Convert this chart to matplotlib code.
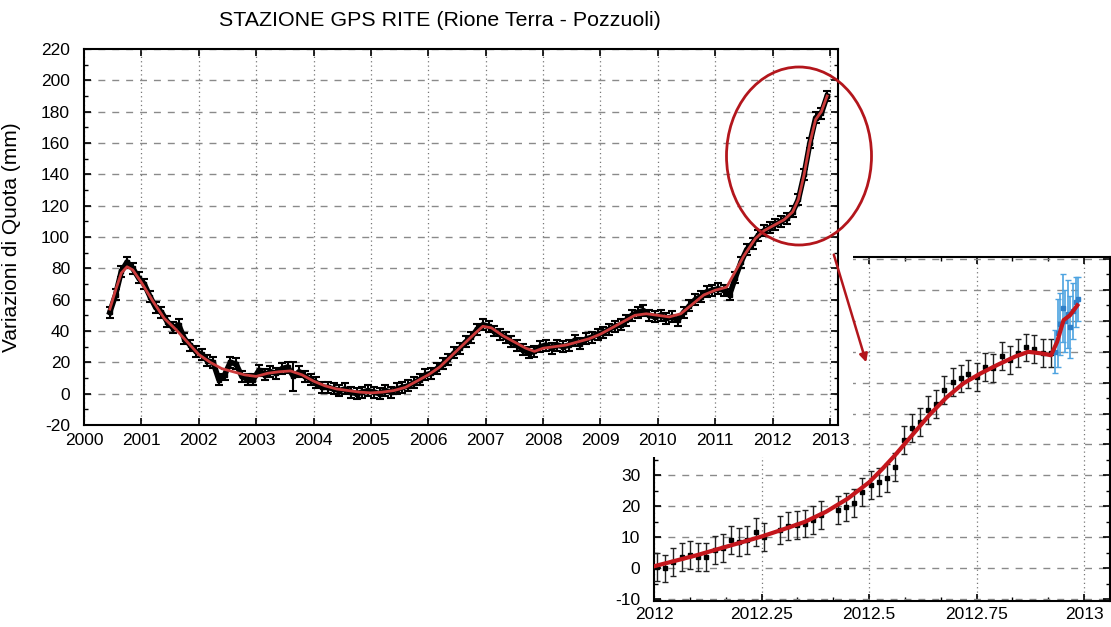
"""
Stazione GPS RITE (Rione Terra - Pozzuoli): quota nel tempo 2000-2013
con riquadro ingrandito sull'anno 2012.
"""

import numpy as np
import matplotlib.pyplot as plt
from matplotlib.patches import Rectangle, Ellipse, FancyArrowPatch
from matplotlib.ticker import MultipleLocator, FuncFormatter

plt.rcParams["font.family"] = ["Liberation Sans", "DejaVu Sans"]
plt.rcParams["axes.unicode_minus"] = False

# ---- serie principale: misure ogni 0.1 anni a partire da 2000.45 ----
OBS_START = 2000.45
OBS_STEP = 0.1
h_obs = [
    52, 63, 78, 84, 80, 74,                      # 2000
    70, 62, 55, 52, 46, 42, 44, 35, 31, 27,      # 2001
    25, 21, 20, 9, 12, 20, 19, 11, 9, 9,         # 2002
    15, 12, 14, 13, 16, 17, 11, 14, 11, 9,       # 2003
    7, 4, 4, 3, 2, 3, 1, 0, 1, 2,                # 2004
    1, 0, 2, 1, 3, 4, 5, 7, 9, 12,               # 2005
    13, 16, 19, 22, 26, 29, 33, 36, 41, 44,      # 2006
    43, 40, 38, 36, 33, 31, 28, 26, 27, 30,      # 2007
    31, 29, 31, 30, 31, 34, 32, 35, 36, 38,      # 2008
    39, 41, 43, 44, 47, 50, 52, 53, 50, 49,      # 2009
    50, 48, 49, 47, 52, 56, 60, 62, 65, 66,      # 2010
    67, 66, 63, 74, 84, 92, 96, 101, 104, 106,   # 2011
    108, 110, 112, 116, 124, 140, 160, 176, 179, 190,  # 2012
]
OBS_ERR = 3.5
big_err_year = 2003.65
big_err = 9

# curva di fit (rossa)
t_fit = [2000.45, 2000.55, 2000.65, 2000.75, 2000.85, 2001.0, 2001.2, 2001.4,
         2001.6, 2001.8, 2002.0, 2002.2, 2002.4, 2002.6, 2002.8, 2003.0,
         2003.2, 2003.4, 2003.6, 2003.8, 2004.0, 2004.2, 2004.4, 2004.6,
         2004.8, 2005.0, 2005.2, 2005.4, 2005.6, 2005.8, 2006.0, 2006.2,
         2006.4, 2006.6, 2006.8, 2006.95, 2007.1, 2007.3, 2007.5, 2007.7,
         2007.85, 2008.0, 2008.2, 2008.4, 2008.6, 2008.8, 2009.0, 2009.2,
         2009.4, 2009.6, 2009.8, 2010.0, 2010.2, 2010.4, 2010.6, 2010.8,
         2011.0, 2011.2, 2011.35, 2011.5, 2011.7, 2011.85, 2012.0, 2012.2,
         2012.35, 2012.45, 2012.55, 2012.65, 2012.75, 2012.85, 2012.95]
h_fit = [54, 66, 77, 81, 79, 71, 59, 48,
         41, 33, 25, 20, 16, 14, 12, 11,
         13, 14, 14.5, 12, 8, 5, 3, 2,
         1, 0.5, 1, 2, 4, 8, 12, 17,
         24, 31, 38, 43, 42, 37, 33, 29,
         27, 29, 30, 31, 33, 35, 38, 42,
         46, 50, 51, 50, 49, 51, 57, 63,
         66, 68, 78, 88, 99, 104, 107, 111,
         116, 124, 140, 160, 175, 180, 190]

# ---- riquadro 2012 ----
t_in = [2012.006, 2012.026, 2012.045, 2012.064, 2012.084, 2012.103, 2012.121,
        2012.142, 2012.160, 2012.179, 2012.198, 2012.217, 2012.236, 2012.256,
        2012.293, 2012.312, 2012.332, 2012.351, 2012.370, 2012.388, 2012.427,
        2012.446, 2012.465, 2012.484, 2012.504, 2012.523, 2012.542, 2012.560,
        2012.580, 2012.599, 2012.619, 2012.638, 2012.656, 2012.675, 2012.694,
        2012.713, 2012.731, 2012.750, 2012.770, 2012.789, 2012.809, 2012.828,
        2012.847, 2012.865, 2012.884, 2012.904, 2012.923]
h_in = [0.5, 0.0, 2.1, 3.7, 4.3, 3.7, 3.7,
        5.9, 6.5, 9.1, 8.6, 9.1, 11.8, 10.2,
        12.4, 13.6, 14.0, 14.5, 15.6, 17.2, 18.8,
        19.9, 21.0, 24.7, 26.9, 28.0, 29.3, 32.8,
        41.4, 45.2, 47.3, 51.1, 53.2, 57.5, 60.2,
        61.3, 62.7, 61.8, 65.0, 64.8, 68.5, 67.2,
        69.5, 71.3, 70.7, 69.4, 69.4]
IN_ERR = 4.5

t_blue = [2012.932, 2012.938, 2012.944, 2012.950, 2012.956, 2012.962,
          2012.968, 2012.974, 2012.980, 2012.986]
h_blue = [70, 76, 79, 84, 80, 82, 78, 83, 86, 87]
e_blue = [7, 11, 10, 11, 10, 11, 10, 9, 8, 7]

t_in_fit = [2012.0, 2012.05, 2012.10, 2012.15, 2012.20, 2012.25, 2012.30,
            2012.35, 2012.40, 2012.45, 2012.50, 2012.53, 2012.56, 2012.60,
            2012.64, 2012.68, 2012.72, 2012.76, 2012.80, 2012.84, 2012.87,
            2012.90, 2012.923, 2012.937, 2012.952, 2012.967, 2012.984]
h_in_fit = [0.7, 2.5, 4.3, 6.3, 8.3, 10.3, 12.6,
            15.0, 18.3, 22.5, 27.8, 32.0, 36.5, 43.0,
            49.5, 55.2, 59.8, 63.0, 65.8, 68.4, 69.9,
            69.4, 68.8, 73.1, 80.1, 81.7, 84.9]

W, H = 1111, 627
DARK_RED = "#b3161c"


def px_box(left, top, right, bottom):
    return [left / W, 1 - bottom / H, (right - left) / W, (bottom - top) / H]


def style_grid(ax):
    ax.grid(axis="x", linestyle=(0, (1, 2.5)), color="#777777", linewidth=0.9)
    ax.grid(axis="y", linestyle=(0, (5, 5)), color="#8a8a8a", linewidth=1.0)
    ax.set_axisbelow(True)
    for sp in ax.spines.values():
        sp.set_linewidth(1.5)


fig = plt.figure(figsize=(W / 100, H / 100), dpi=100)

# ---- inset (sotto) ----
ax_in = fig.add_axes(px_box(654, 257, 1110, 601), zorder=0)
ax_in.errorbar(t_in, h_in, yerr=IN_ERR, fmt="s", ms=2.5, color="black",
               ecolor="#222222", elinewidth=1, capsize=2.5, zorder=3)
ax_in.errorbar(t_blue, h_blue, yerr=e_blue, fmt="s", ms=2.5, color="#2f7fc8",
               ecolor="#4da3e0", elinewidth=1.2, capsize=2, zorder=3)
ax_in.plot(t_in_fit, h_in_fit, color="#c4161c", linewidth=3, zorder=4)
ax_in.set_xlim(2012, 2013.06)
ax_in.set_ylim(-10.5, 100.5)
ax_in.set_xticks([2012, 2012.25, 2012.5, 2012.75, 2013])
ax_in.xaxis.set_major_formatter(FuncFormatter(lambda v, p: f"{v:g}"))
ax_in.set_yticks(range(-10, 101, 10))
ax_in.xaxis.set_minor_locator(MultipleLocator(1 / 12))
ax_in.yaxis.set_minor_locator(MultipleLocator(5))
ax_in.tick_params(direction="in", top=True, right=True, length=5, width=1.2,
                  labelsize=12.5)
ax_in.tick_params(axis="x", pad=4)
ax_in.tick_params(axis="y", pad=10)
ax_in.tick_params(which="minor", direction="in", top=True, right=True,
                  length=3, width=1)
style_grid(ax_in)

# copre la parte dell'inset che sta sotto il grafico principale
cover = Rectangle((0, 1 - 457 / H), 853 / W, 457 / H, transform=fig.transFigure,
                  facecolor="white", edgecolor="none", zorder=1)
fig.add_artist(cover)

# ---- grafico principale ----
ax = fig.add_axes(px_box(84, 49, 838, 425), zorder=2)
t_obs = OBS_START + OBS_STEP * np.arange(len(h_obs))
err = np.full(len(h_obs), OBS_ERR)
err[np.argmin(np.abs(t_obs - big_err_year))] = big_err
ax.plot(t_obs, h_obs, color="black", linewidth=4, zorder=3)
ax.errorbar(t_obs, h_obs, yerr=err, fmt="s", ms=3, color="black",
            elinewidth=1.5, capsize=3, capthick=1.5, zorder=3)
ax.plot(t_fit, h_fit, color="#cc3b3b", linewidth=2, zorder=4)
ax.set_xlim(2000, 2013.14)
ax.set_ylim(-20, 220)
ax.set_xticks(range(2000, 2014))
ax.set_yticks(range(-20, 221, 20))
ax.yaxis.set_minor_locator(MultipleLocator(10))
ax.tick_params(direction="in", top=True, right=True, length=5, width=1.2,
               labelsize=12.5)
ax.tick_params(axis="x", pad=6)
ax.tick_params(axis="y", pad=10)
ax.tick_params(which="minor", direction="in", right=True, length=3, width=1)
style_grid(ax)
ax.set_ylabel("Variazioni di Quota (mm)", fontsize=15)
ax.yaxis.set_label_coords(-0.083, 0.5)

fig.text(440 / W, 1 - 20 / H, "STAZIONE GPS RITE (Rione Terra - Pozzuoli)",
         ha="center", va="center", fontsize=15.4)

# ellisse di evidenziazione e freccia verso l'ingrandimento
ell = Ellipse((799 / W, 1 - 156 / H), 145 / W, 178 / H, transform=fig.transFigure,
              fill=False, edgecolor=DARK_RED, linewidth=2, zorder=5)
fig.add_artist(ell)
arrow = FancyArrowPatch((833 / W, 1 - 252 / H), (867 / W, 1 - 365 / H),
                        transform=fig.transFigure, arrowstyle="-|>",
                        mutation_scale=12, color=DARK_RED, linewidth=1.8,
                        zorder=5)
fig.add_artist(arrow)

fig.savefig("out.png", dpi=100)
